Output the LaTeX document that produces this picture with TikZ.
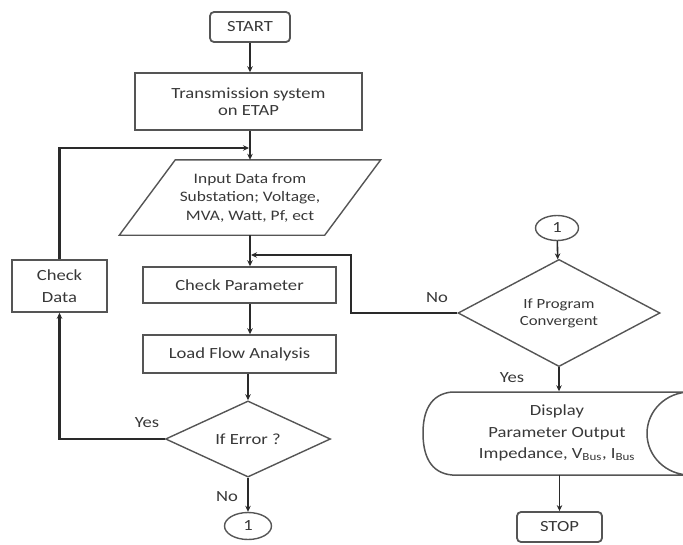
\documentclass[tikz,border=0pt]{standalone}
\usepackage{fontspec}
\setmainfont{Carlito}[FakeStretch=1.2]
\usetikzlibrary{arrows.meta, positioning, shapes.geometric, calc}
\definecolor{lineDark}{HTML}{2A2A2A}
\definecolor{boxGray}{HTML}{555555}
\definecolor{textDark}{HTML}{383838}
\tikzset{
  arrowD/.style={-{Stealth[length=6pt, width=5.5pt]}, lineDark, line width=1.6pt},
  arrowT/.style={arrowD, line width=2.8pt},
  arrowN/.style={arrowD, line width=2.2pt},
  boxP/.style={rectangle, draw=boxGray, line width=1.5pt, align=center,
               inner sep=2pt, text=textDark},
  termB/.style={boxP, rounded corners=4pt, line width=1.8pt},
  decB/.style={diamond, draw=boxGray, line width=1.4pt, align=center,
               inner sep=0pt, text=textDark},
  conB/.style={ellipse, draw=boxGray, line width=1.4pt, inner sep=0pt,
               text=textDark},
  ioB/.style={rectangle, align=center, inner sep=1pt, text=textDark},
  lblY/.style={text=textDark, inner sep=0pt},
}

\begin{document}
\begin{tikzpicture}[x=1pt, y=-1pt, font=\fontsize{15.5}{18}\selectfont]
    \useasboundingbox (0,0) rectangle (683,544);
    % left column
    \node[termB, minimum width=80pt, minimum height=30pt] (start) at (250,27) {START};
    \node[boxP, minimum width=227pt, minimum height=57pt,
          font=\fontsize{15.5}{16.5}\selectfont] (trans) at (248.5,101.5)
          {Transmission system\\on ETAP};
    \node[ioB, minimum width=205pt, minimum height=75pt,
          font=\fontsize{14.5}{18.5}\selectfont] (para) at (250,197.5)
          {Input Data from\\Substation; Voltage,\\MVA, Watt, Pf, ect};
    \draw[draw=boxGray, line width=1.4pt]
      ($(para.north west)+(28,0)$) -- ($(para.north east)+(28,0)$)
      -- ($(para.south east)+(-28,0)$) -- ($(para.south west)+(-28,0)$) -- cycle;
    \node[boxP, minimum width=95pt, minimum height=52pt,
          font=\fontsize{15.5}{22}\selectfont] (chkd) at (59.5,286) {Check\\Data};
    \node[boxP, minimum width=193pt, minimum height=36pt] (cpar) at (239.5,285)
          {Check Parameter};
    \node[boxP, minimum width=193pt, minimum height=38pt] (lfa) at (239.5,354)
          {Load Flow Analysis};
    \node[decB, minimum width=165pt, minimum height=67pt] (err) at (248,439)
          {If Error ?};
    \node[conB, minimum width=47pt, minimum height=27pt] (con1) at (248,526) {1};
    % right column
    \node[conB, minimum width=43pt, minimum height=25pt] (con2) at (557,228) {1};
    \node[decB, minimum width=202pt, minimum height=79pt,
          font=\fontsize{14}{17}\selectfont] (conv) at (559,313)
          {If Program\\Convergent};
    \node[align=center, text=textDark, minimum height=83pt,
          font=\fontsize{15.5}{21.5}\selectfont] (disp) at (557,433)
          {Display\\Parameter Output\\Impedance, V\textsubscript{Bus}, I\textsubscript{Bus}};
    \draw[draw=boxGray, line width=1.5pt]
      (452,392) -- (700,392)
      (452,475) -- (700,475)
      (452,392) .. controls (430,394) and (423,412) .. (423,433)
                .. controls (423,455) and (430,473) .. (452,475)
      (690,392) arc[start angle=90, end angle=270, x radius=43pt, y radius=41.5pt];
    \node[termB, minimum width=85pt, minimum height=30pt] (stop) at (559.5,527) {STOP};
    % labels
    \node[lblY] (yes1) at (147,423) {Yes};
    \node[lblY] (no1) at (227,497) {No};
    \node[lblY] (no2) at (437,298) {No};
    \node[lblY] (yes2) at (512,378) {Yes};
    % connectors
    \coordinate (j1) at (249,148);
    \coordinate (j2) at (251,255);
    \draw[arrowD] (start.south) -- (start.south |- trans.north);
    \draw[arrowD] (trans.south -| para.south) -- (para.north);
    \draw[arrowN] (chkd.north) |- (j1);
    \draw[arrowD] (para.south) -- (para.south |- cpar.north);
    \draw[arrowD] (cpar.south -| para.south) -- (para.south |- lfa.north);
    \draw[arrowD] (lfa.south -| err.north) -- (err.north);
    \draw[arrowT] (err.west) -| (chkd.south);
    \draw[arrowD] (err.south) -- (con1.north);
    \draw[arrowD] (con2) -- (conv);
    \draw[arrowN] (conv.west) -- ++(-106,0) |- (j2);
    \draw[arrowD] (conv.south) -- (conv.south |- disp.north);
    \draw[arrowD] (disp.south -| stop.north) -- (stop.north);
\end{tikzpicture}
\end{document}
